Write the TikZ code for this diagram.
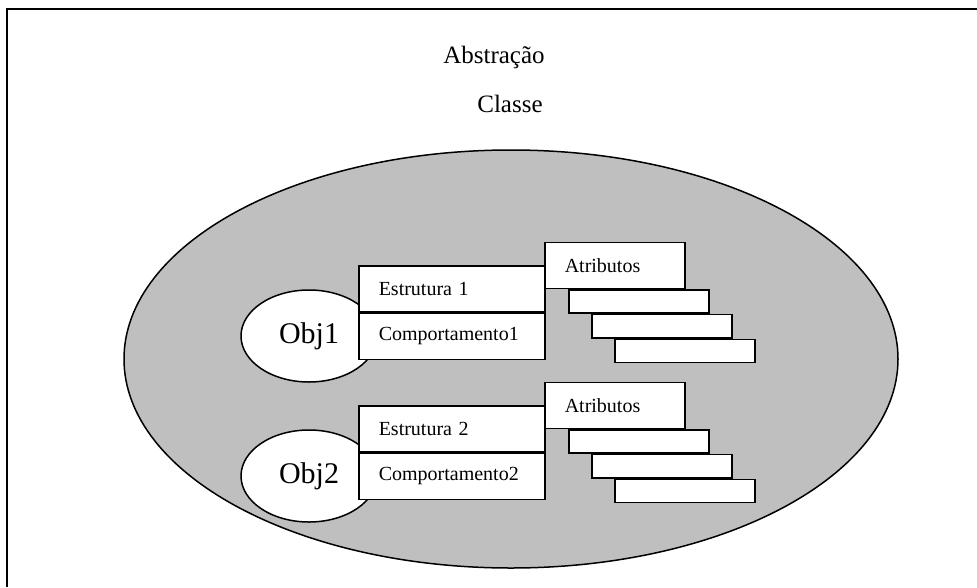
\documentclass[tikz,border=0pt]{standalone}
\usepackage{fontspec}
\setmainfont{Liberation Serif}
\usetikzlibrary{shapes.geometric, positioning, calc}

\begin{document}
\begin{tikzpicture}[
      x=1pt, y=-1pt, line width=1.5pt,
      classe/.style={draw, ellipse, fill=gray!50, minimum width=774pt, minimum height=418pt},
      obj/.style={draw, ellipse, fill=white, minimum width=136pt, minimum height=92pt, inner sep=0pt, font=\fontsize{30}{36}\selectfont},
      part/.style={draw, fill=white, align=left, text width=146pt, inner xsep=20pt, inner ysep=0pt, minimum height=46pt, font=\fontsize{20}{24}\selectfont},
      attr/.style={part, text width=100pt},
      stairbox/.style={draw, fill=white, minimum width=140pt, minimum height=23.3pt, inner sep=0pt},
      title/.style={font=\fontsize{25}{30}\selectfont},
    ]
      \useasboundingbox (0,0) rectangle (977,587);
      \draw[line width=1.8pt] (7,587) -- (7,9) -- (977,9);

      \node[title] (abs) at (494,57) {Abstração};
      \node[title] (cls) at (510,104) {Classe};

      \node[classe] (big) at (511,359) {};

      \node[obj] (obj1) at (309,336) {Obj1};
      \node[obj] (obj2) at (309,476) {Obj2};

      \node[part, anchor=north west] (est1) at (358,265) {Estrutura 1};
      \node[part, below=0pt of est1] (comp1) {Comportamento1};
      \node[part, anchor=north west] (est2) at (358,405) {Estrutura 2};
      \node[part, below=0pt of est2] (comp2) {Comportamento2};

      \node[attr, anchor=south west] (attr1) at (544,289) {Atributos};
      \node[attr, anchor=south west] (attr2) at (544,429) {Atributos};

      \foreach \g in {1,2} {
        \node[stairbox, anchor=north west] (s\g a) at ($(attr\g.south west)+(24,0)$) {};
        \node[stairbox, anchor=north west] (s\g b) at ($(s\g a.south west)+(23,0)$) {};
        \node[stairbox, anchor=north west] (s\g c) at ($(s\g b.south west)+(23,0)$) {};
      }
    \end{tikzpicture}
\end{document}
